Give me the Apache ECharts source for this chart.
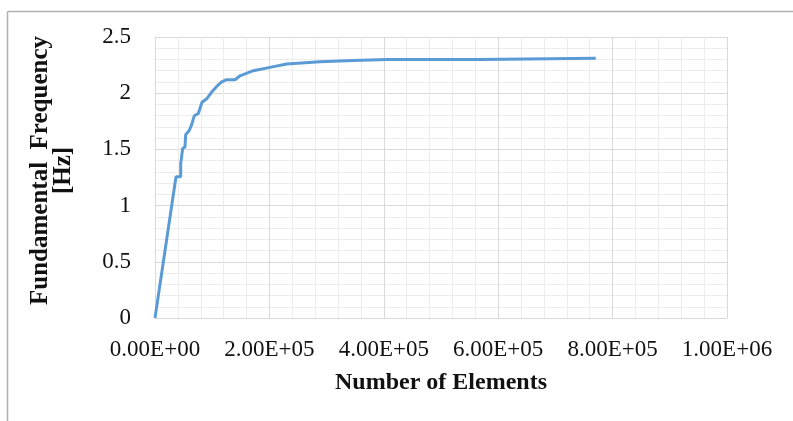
<!DOCTYPE html>
<html>
<head>
<meta charset="utf-8">
<script src="https://cdn.jsdelivr.net/npm/echarts@6/dist/echarts.min.js"></script>
<style>html,body{margin:0;padding:0;background:#fff;}#chart{width:793px;height:421px;}</style>
</head>
<body>
<div id="chart"></div>
<script>
const elements = [0, 36700, 44900, 45000, 48400, 52400, 53600, 60000, 64100, 68800, 75700, 82200, 90300, 99100, 107900, 116600, 125300, 139900, 148600, 171900, 201000, 230200, 288500, 346800, 405100, 568200, 770500];
const frequency = [0, 1.257, 1.257, 1.376, 1.51, 1.52, 1.63, 1.67, 1.72, 1.80, 1.82, 1.92, 1.95, 2.01, 2.06, 2.10, 2.12, 2.12, 2.155, 2.20, 2.23, 2.26, 2.28, 2.29, 2.30, 2.30, 2.31];
const xTickLabels = ['0.00E+00', '2.00E+05', '4.00E+05', '6.00E+05', '8.00E+05', '1.00E+06'];
const yTickLabels = ['0', '0.5', '1', '1.5', '2', '2.5'];
const xTitle = 'Number of Elements';
const yTitle = 'Fundamental  Frequency\n[Hz]';

const serif = '"Liberation Serif", "Times New Roman", serif';
const chart = echarts.init(document.getElementById('chart'));
chart.setOption({
  animation: false,
  backgroundColor: '#fff',
  grid: { left: 155, right: 66, top: 37, bottom: 103, containLabel: false },
  graphic: [
    { type: 'line', shape: { x1: 7.5, y1: 11.5, x2: 793, y2: 11.5 }, style: { stroke: '#b0b0b0', lineWidth: 1.5 } },
    { type: 'line', shape: { x1: 7.5, y1: 11.5, x2: 7.5, y2: 421 }, style: { stroke: '#b0b0b0', lineWidth: 1.5 } }
  ],
  xAxis: {
    type: 'value', min: 0, max: 1000000, interval: 200000,
    name: xTitle, nameLocation: 'middle', nameGap: 53,
    nameTextStyle: { fontFamily: serif, fontWeight: 'bold', fontSize: 24, color: '#111' },
    axisLine: { show: true, lineStyle: { color: '#d9d9d9', width: 1 } },
    axisTick: { show: false },
    axisLabel: { margin: 20, fontFamily: serif, fontSize: 23, color: '#111',
      formatter: v => xTickLabels[Math.round(v / 200000)] },
    splitLine: { show: true, lineStyle: { color: '#d9d9d9', width: 1 } },
    minorTick: { show: false, splitNumber: 5 },
    minorSplitLine: { show: true, lineStyle: { color: '#ececec', width: 1 } }
  },
  yAxis: {
    type: 'value', min: 0, max: 2.5, interval: 0.5,
    name: yTitle, nameLocation: 'middle', nameGap: 80, nameRotate: 90,
    nameTextStyle: { fontFamily: serif, fontWeight: 'bold', fontSize: 25, color: '#111', lineHeight: 23, padding: [0, 0, 0, 14] },
    axisLine: { show: true, lineStyle: { color: '#d9d9d9', width: 1 } },
    axisTick: { show: false },
    axisLabel: { margin: 24, fontFamily: serif, fontSize: 23, color: '#111',
      formatter: v => yTickLabels[Math.round(v / 0.5)] },
    splitLine: { show: true, lineStyle: { color: '#d9d9d9', width: 1 } },
    minorTick: { show: false, splitNumber: 5 },
    minorSplitLine: { show: true, lineStyle: { color: '#ececec', width: 1 } }
  },
  series: [{
    type: 'line',
    data: elements.map((e, i) => [e, frequency[i]]),
    showSymbol: false,
    symbol: 'none',
    lineStyle: { color: '#5b9bd5', width: 3 },
    itemStyle: { color: '#5b9bd5' }
  }]
});
</script>
</body>
</html>
